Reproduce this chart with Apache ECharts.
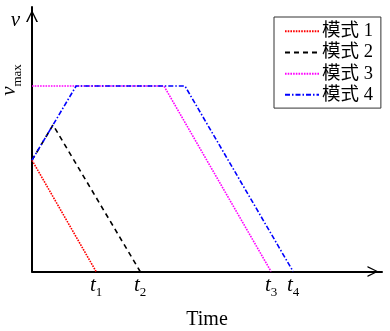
<!DOCTYPE html>
<html>
<head>
<meta charset="utf-8">
<script src="https://cdn.jsdelivr.net/npm/echarts@6/dist/echarts.min.js"></script>
<style>html,body{margin:0;padding:0;background:#fff;}#chart{width:390px;height:331px;}</style>
</head>
<body>
<div id="chart"></div>
<script>
// ---- data (time in arbitrary units, speed relative to v_max) ----
const seriesNames = ['模式 1', '模式 2', '模式 3', '模式 4'];
const timeMode1 = [0, 1.83];
const speedMode1 = [0.6, 0];
const timeMode2 = [0, 0.6, 3.09];
const speedMode2 = [0.6, 0.79, 0];
const timeMode3 = [0, 3.77, 6.83];
const speedMode3 = [1, 1, 0];
const timeMode4 = [0, 1.26, 4.37, 7.46];
const speedMode4 = [0.6, 1, 1, 0];
const xTickValues = [1.83, 3.09, 6.83, 7.46];
const xTickSubs = ['1', '2', '3', '4'];
const vmax = 1;
const xMax = 10;
const yMax = 1.426;

const serif = 'Liberation Serif';
const arrowPath = 'path://M50 0 L100 100 L86 100 L50 22 L14 100 L0 100 Z';

function pairs(xs, ys) { return xs.map((x, i) => [x, ys[i]]); }

const colors = ['#ff0000', '#000000', '#ff00ff', '#0000ff'];
const dashes = [[1.6, 1.1], [5, 4], [1.6, 1.1], [5, 2, 1.5, 2]];
const datasets = [pairs(timeMode1, speedMode1), pairs(timeMode2, speedMode2), pairs(timeMode3, speedMode3), pairs(timeMode4, speedMode4)];

const chart = echarts.init(document.getElementById('chart'), null, {renderer: 'canvas'});
chart.setOption({
  animation: false,
  backgroundColor: '#fff',
  grid: {left: 32, right: 8, top: 7, bottom: 59.5, containLabel: false, outerBoundsMode: 'none'},
  legend: {
    orient: 'vertical', left: 274, top: 17,
    data: seriesNames,
    itemWidth: 34, itemHeight: 12, itemGap: 2.7,
    padding: [5, 8, 4, 10],
    borderColor: '#333', borderWidth: 1, borderRadius: 0,
    itemStyle: {opacity: 0},
    textStyle: {fontFamily: serif + ', "Noto Sans CJK SC"', fontSize: 18.5, lineHeight: 18, color: '#000', padding: [0, 0, 0, -2]}
  },
  xAxis: {
    type: 'value', min: 0, max: xMax,
    name: 'Time', nameLocation: 'middle', nameGap: 38,
    nameTextStyle: {fontFamily: serif, fontSize: 20, color: '#000'},
    splitLine: {show: false},
    axisTick: {show: false},
    axisLine: {show: true, lineStyle: {color: '#000', width: 2}, symbol: ['none', arrowPath], symbolSize: [11, 19], symbolOffset: [0, -9]},
    axisLabel: {
      customValues: xTickValues,
      margin: 8,
      formatter: function (val) {
        let idx = xTickValues.findIndex(v => Math.abs(v - val) < 1e-6);
        return '{t|t}{s|' + xTickSubs[idx] + '}';
      },
      rich: {
        t: {fontFamily: serif, fontStyle: 'italic', fontSize: 21, lineHeight: 20, color: '#000', padding: [0, 0, 4, 0], verticalAlign: 'bottom'},
        s: {fontFamily: serif, fontSize: 13, lineHeight: 12, color: '#000', verticalAlign: 'bottom'}
      }
    }
  },
  yAxis: {
    type: 'value', min: 0, max: yMax,
    name: 'v', nameLocation: 'end', nameGap: -13,
    nameTextStyle: {fontFamily: serif, fontStyle: 'italic', fontSize: 21, color: '#000', align: 'right', verticalAlign: 'middle', padding: [0, 12, 0, 0]},
    splitLine: {show: false},
    axisTick: {show: false},
    axisLine: {show: true, lineStyle: {color: '#000', width: 2}, symbol: ['none', arrowPath], symbolSize: [12, 19], symbolOffset: [0, -9]},
    axisLabel: {
      customValues: [vmax],
      rotate: 90,
      margin: 8,
      formatter: function () { return '{v|v}{m|max}'; },
      padding: [0, 0, 0, 12],
      rich: {
        v: {fontFamily: serif, fontStyle: 'italic', fontSize: 21, lineHeight: 20, color: '#000', padding: [0, 0, 4, 0], verticalAlign: 'bottom'},
        m: {fontFamily: serif, fontSize: 13, lineHeight: 12, color: '#000', verticalAlign: 'bottom'}
      }
    }
  },
  series: seriesNames.map((name, i) => ({
    name: name, type: 'line', data: datasets[i],
    showSymbol: false, symbol: 'none',
    lineStyle: {color: colors[i], width: 1.6, type: dashes[i]},
    itemStyle: {color: colors[i]},
    z: 2 + i
  }))
});
</script>
</body>
</html>
